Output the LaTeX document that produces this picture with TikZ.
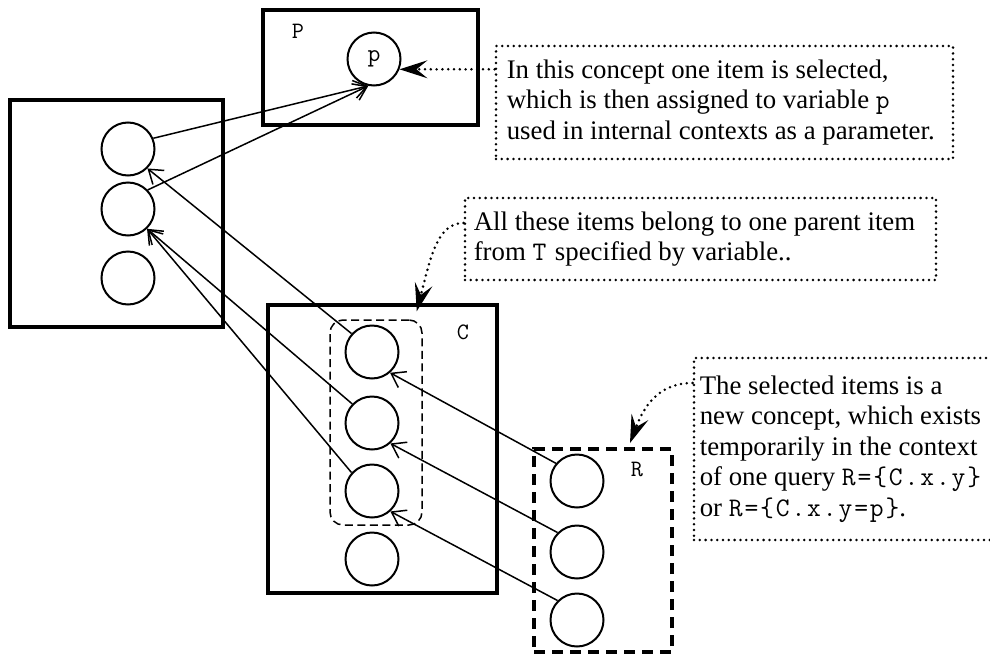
\documentclass[tikz,border=0pt]{standalone}
\usepackage{fontspec}
\setmainfont{Liberation Serif}
\setmonofont{Latin Modern Mono}[LetterSpace=7]
\usetikzlibrary{arrows.meta,calc}

\begin{document}
\begin{tikzpicture}[x=1pt,y=-1pt,
  concept/.style={draw, line width=3.4pt, inner sep=0pt},
  query/.style={draw, line width=4pt, dash pattern=on 11pt off 7pt, inner sep=0pt},
  group/.style={draw, line width=1.5pt, dash pattern=on 8pt off 4.5pt, rounded corners=13pt, inner sep=0pt},
  item/.style={circle, draw, line width=2pt, minimum size=53pt, inner sep=0pt, font=\fontsize{25}{25}\selectfont\ttfamily},
  tag/.style={anchor=base, inner sep=0pt, font=\fontsize{23.5}{23.5}\selectfont\ttfamily},
  link/.style={line width=1.5pt, -{Straight Barb[length=13pt,width=18pt,line width=1.5pt]}},
  dotline/.style={line width=2.8pt, dash pattern=on 0pt off 5.8pt, line cap=round},
  note/.style={dotline, draw, inner sep=0pt},
  notetext/.style={anchor=west, align=left, inner sep=0pt,
    font=\fontsize{26.8}{30.5}\selectfont},
  callout/.style={dotline, -{Stealth[length=28pt,width=18pt,inset=11pt,line width=0pt]}}
]
\useasboundingbox (0,0) rectangle (990,656);
\clip (0,0) rectangle (990,656);

% concept boxes
\node[concept, minimum width=215, minimum height=115] (pbox) at (370.5,67.5) {};
\node[concept, minimum width=213, minimum height=227] (lbox) at (116.5,213.5) {};
\node[concept, minimum width=229, minimum height=288] (cbox) at (382.5,449) {};
\node[query, minimum width=138, minimum height=203] (rbox) at (603,550.5) {};
\node[group, minimum width=92, minimum height=205] (grp) at (376,422.5) {};

% box labels
\node[tag] (ptag) at (298,38) {P};
\node[tag] (ctag) at (463,339) {C};
\node[tag] (rtag) at (637,476) {R};

% items
\node[item] (pc) at (374,59) {p};
\node[item] (l1) at (128,149) {};
\node[item] (l2) at (128,209) {};
\node[item] (l3) at (128,278) {};
\node[item] (c1) at (372,352) {};
\node[item] (c2) at (372,423) {};
\node[item] (c3) at (372,491) {};
\node[item] (c4) at (372,559) {};
\node[item] (r1) at (577,481) {};
\node[item] (r2) at (577,552) {};
\node[item] (r3) at (577,620) {};

% references between items
\draw[link] (l1.23) -- (pc.258);
\draw[link] (l2.44) -- (pc.258);
\draw[link] (c1.138) -- (l1.-45);
\draw[link] (c2.136) -- (l2.-46);
\draw[link] (c3.138) -- (l2.-46);
\draw[link] (r1.140) -- (c1.-49);
\draw[link] (r2.135) -- (c2.-48);
\draw[link] (r3.135) -- (c3.-48);

% explanatory notes: dotted frames and their texts
\node[note, minimum width=457, minimum height=113] (n1) at (724.5,102.5) {};
\node[note, minimum width=471, minimum height=82] (n2) at (700.5,239) {};
\node[note, minimum width=316, minimum height=182] (n3) at (852,449) {};

\node[notetext] (t1) at ($(n1.west)+(12,0)$)
  {In this concept one item is selected,\\
   which is then assigned to variable \texttt{p}\\
   used in internal contexts as a parameter.};
\node[notetext] (t2) at ($(n2.west)+(10,0)$)
  {All these items belong to one parent item\\
   from \texttt{T} specified by variable..};
\node[notetext] (t3) at ($(n3.west)+(7,0)$)
  {The selected items is a\\
   new concept, which exists\\
   temporarily in the context\\
   of one query \texttt{R=\{C.x.y\}}\\
   or \texttt{R=\{C.x.y=p\}}.};

% note pointers
\draw[callout] (n1.west |- pc.-22) -- (pc.-22);
\coordinate (s2) at ($(n2.west)+(0,-16)$);
\coordinate (e2) at ($(grp.north east)+(-6,-8)$);
\draw[callout] (s2) .. controls +(-26,0) and +(14,-55) .. (e2);
\coordinate (s3) at ($(n3.west)+(0,-66)$);
\coordinate (e3) at ($(rbox.north)+(27,-4)$);
\draw[callout] (s3) .. controls +(-30,0) and +(16,-42) .. (e3);
\end{tikzpicture}
\end{document}
